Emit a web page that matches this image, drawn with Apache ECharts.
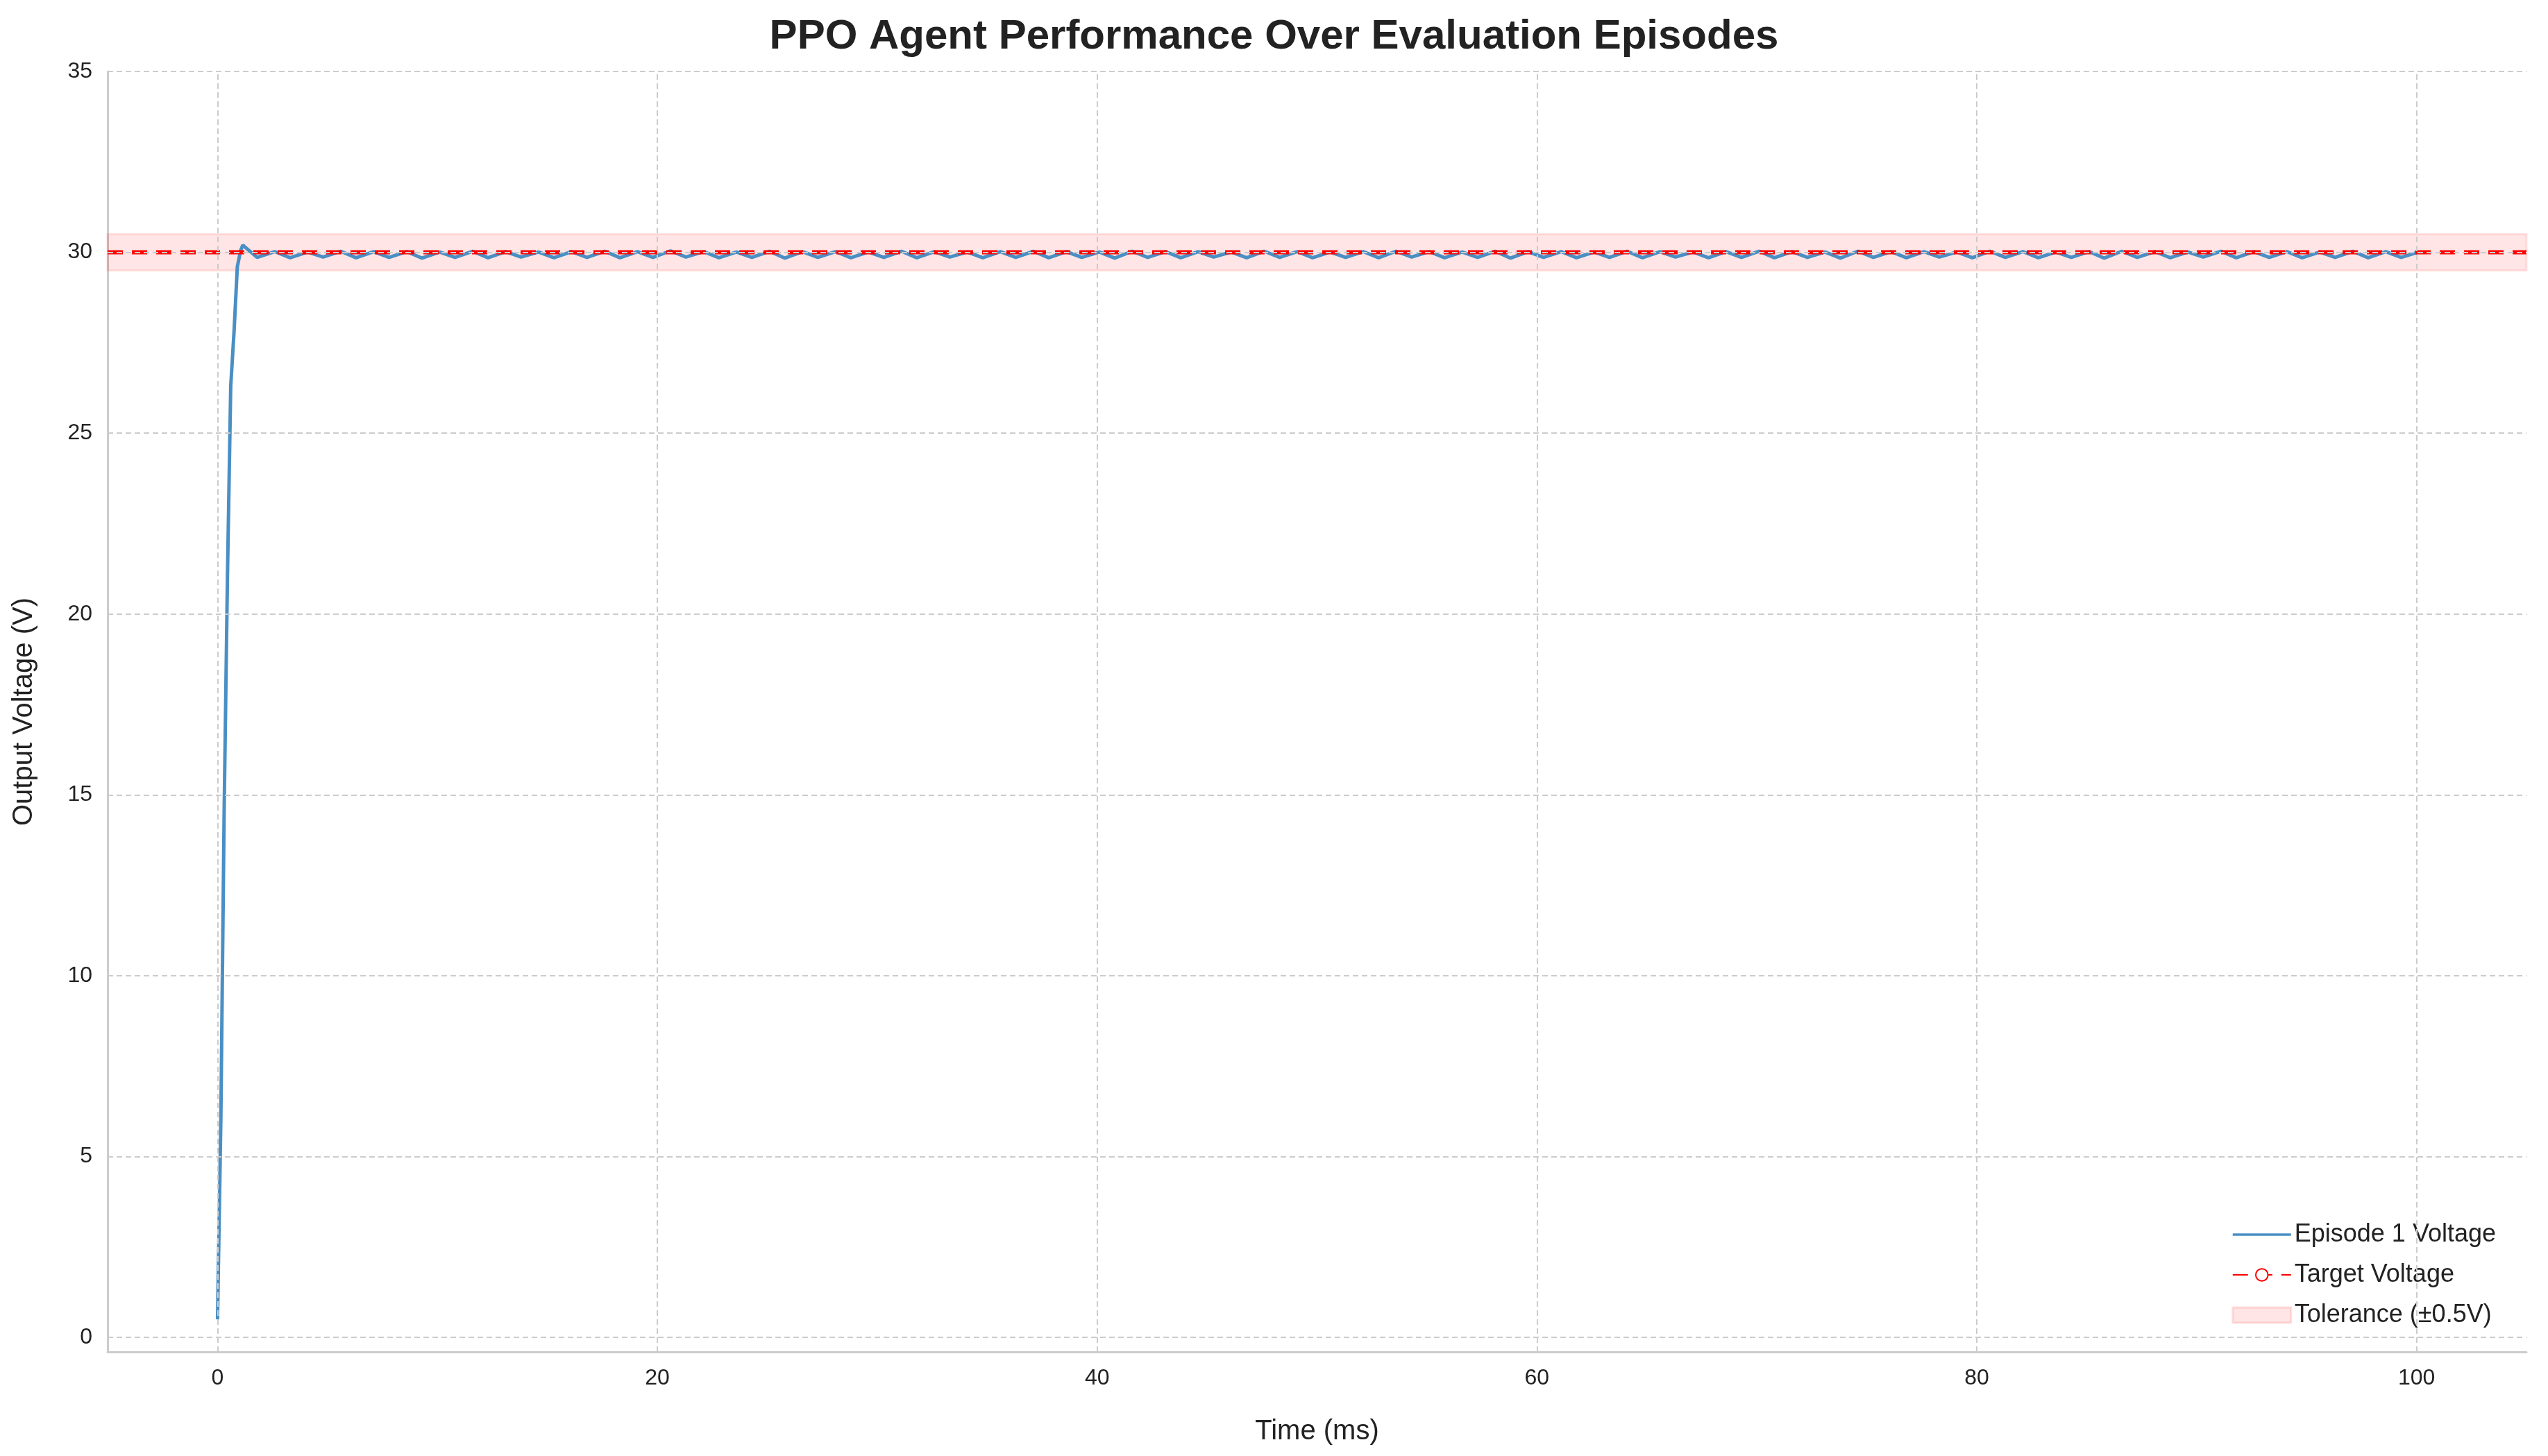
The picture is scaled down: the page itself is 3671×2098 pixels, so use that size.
<!DOCTYPE html>
<html><head><meta charset="utf-8">
<script src="https://cdn.jsdelivr.net/npm/echarts@6/dist/echarts.min.js"></script>
<style>html,body{margin:0;background:#fff}#main{width:3671px;height:2098px}</style>
</head><body><div id="main"></div>
<script>
// start-up transient (time ms, voltage V)
var startT = [0, 0.15, 0.3, 0.45, 0.6, 0.75, 0.9, 1.05, 1.15, 1.3];
var startV = [0.5, 6.0, 14.5, 21.0, 26.3, 27.8, 29.6, 30.05, 30.2, 30.12];
// steady-state ripple: trough times, trough values, peak values (peak 0.8 ms after trough)
var troughT = [1.8,3.3,4.8,6.3,7.8,9.3,10.8,12.3,13.8,15.3,16.8,18.3,19.8,21.3,22.8,24.3,25.8,27.3,28.8,30.3,31.8,33.3,34.8,36.3,37.8,39.3,40.8,42.3,43.8,45.3,46.8,48.3,49.8,51.3,52.8,54.3,55.8,57.3,58.8,60.3,61.8,63.3,64.8,66.3,67.8,69.3,70.8,72.3,73.8,75.3,76.8,78.3,79.8,81.3,82.8,84.3,85.8,87.3,88.8,90.3,91.8,93.3,94.8,96.3,97.8,99.3];
var troughV = [29.86,29.85,29.87,29.85,29.86,29.84,29.86,29.85,29.87,29.85,29.86,29.85,29.86,29.87,29.85,29.86,29.84,29.86,29.85,29.86,29.85,29.87,29.85,29.86,29.85,29.86,29.84,29.86,29.85,29.87,29.85,29.86,29.85,29.86,29.85,29.87,29.85,29.86,29.84,29.86,29.85,29.86,29.85,29.87,29.85,29.86,29.85,29.86,29.84,29.86,29.85,29.87,29.85,29.86,29.85,29.86,29.84,29.86,29.85,29.87,29.85,29.86,29.85,29.86,29.85,29.86];
var peakV = [30.02,30.01,30.03,30.02,30.02,30.01,30.03,30.02,30.01,30.02,30.03,30.02,30.04,30.02,30.01,30.03,30.02,30.02,30.01,30.03,30.02,30.01,30.02,30.03,30.02,30.01,30.03,30.02,30.02,30.01,30.03,30.02,30.01,30.02,30.03,30.02,30.01,30.03,30.02,30.02,30.01,30.03,30.02,30.01,30.02,30.03,30.02,30.01,30.03,30.02,30.02,30.01,30.03,30.02,30.01,30.02,30.03,30.02,30.01,30.03,30.02,30.02,30.01,30.03,30.02,30.01];
var target = 30, tol = 0.5;
var xTicks = [0, 20, 40, 60, 80, 100];
var yTicks = [0, 5, 10, 15, 20, 25, 30, 35];

var volt = [];
for (var i = 0; i < startT.length; i++) volt.push([startT[i], startV[i]]);
for (var i = 0; i < troughT.length; i++) {
    volt.push([troughT[i], troughV[i]]);
    volt.push([+(troughT[i] + 0.8).toFixed(2), peakV[i]]);
}

var gridStyle = {color: '#cccccc', width: 2, type: [8, 5]};
var lbl = {color: '#222', fontSize: 32, fontFamily: 'Liberation Sans'};
var gridLines = [];
xTicks.forEach(function (v) {
    gridLines.push({xAxis: v, label: Object.assign({show: true, position: 'start', formatter: String(v), distance: 22}, lbl)});
});
yTicks.forEach(function (v) {
    gridLines.push({yAxis: v, label: Object.assign({show: true, position: 'start', formatter: String(v), distance: 22}, lbl)});
});

var myChart = echarts.init(document.getElementById('main'));
var option = {
    backgroundColor: '#fff',
    animation: false,
    title: {
        text: 'PPO Agent Performance Over Evaluation Episodes',
        left: 'center', top: 18,
        textStyle: {fontSize: 60, fontWeight: 'bold', color: '#222', fontFamily: 'Liberation Sans'}
    },
    grid: {left: 155, right: 31, top: 103, bottom: 150},
    legend: {
        orient: 'vertical', right: 70, bottom: 180, itemGap: 22,
        itemWidth: 84, itemHeight: 22,
        textStyle: {fontSize: 36, color: '#222', fontFamily: 'Liberation Sans'},
        data: [
            {name: 'Episode 1 Voltage', icon: 'path://M0,0 L100,0 L100,4 L0,4 Z'},
            {name: 'Target Voltage'},
            {name: 'Tolerance (±0.5V)', icon: 'rect', itemStyle: {color: 'rgba(255,0,0,0.1)', borderColor: 'rgba(255,0,0,0.12)', borderWidth: 3}}
        ]
    },
    xAxis: {
        type: 'value', min: -5, max: 105,
        name: 'Time (ms)', nameLocation: 'middle', nameGap: 95,
        nameTextStyle: {fontSize: 40, color: '#222', fontFamily: 'Liberation Sans'},
        axisLabel: {show: false}, axisTick: {show: false}, splitLine: {show: false},
        axisLine: {show: true, onZero: false, lineStyle: {color: '#cccccc', width: 3}}
    },
    yAxis: {
        type: 'value', min: -0.4, max: 35,
        name: 'Output Voltage (V)', nameLocation: 'middle', nameGap: 100,
        nameTextStyle: {fontSize: 40, color: '#222', fontFamily: 'Liberation Sans'},
        axisLabel: {show: false}, axisTick: {show: false}, splitLine: {show: false},
        axisLine: {show: true, onZero: false, lineStyle: {color: '#cccccc', width: 3}}
    },
    series: [
        {
            name: 'grid', type: 'line', data: [], silent: true,
            markLine: {symbol: 'none', silent: true, lineStyle: gridStyle, data: gridLines}
        },
        {
            name: 'Tolerance (±0.5V)', type: 'line', data: [], silent: true,
            itemStyle: {color: 'rgba(255,0,0,0.1)'},
            markArea: {
                silent: true,
                itemStyle: {color: 'rgba(255,0,0,0.1)', borderColor: 'rgba(255,0,0,0.1)', borderWidth: 3},
                data: [[{xAxis: -5, yAxis: target - tol}, {xAxis: 105, yAxis: target + tol}]]
            }
        },
        {
            name: 'Episode 1 Voltage', type: 'line', data: volt, showSymbol: false, z: 3,
            lineStyle: {color: '#4a8fc4', width: 5}, itemStyle: {color: '#4a8fc4'}
        },
        {
            name: 'Target Voltage', type: 'line', data: [[-5, target], [105, target]], showSymbol: false, z: 4,
            lineStyle: {color: '#ff0000', width: 6, type: [22, 13]}, itemStyle: {color: '#ff0000'}
        }
    ]
};
myChart.setOption(option);
</script></body></html>
